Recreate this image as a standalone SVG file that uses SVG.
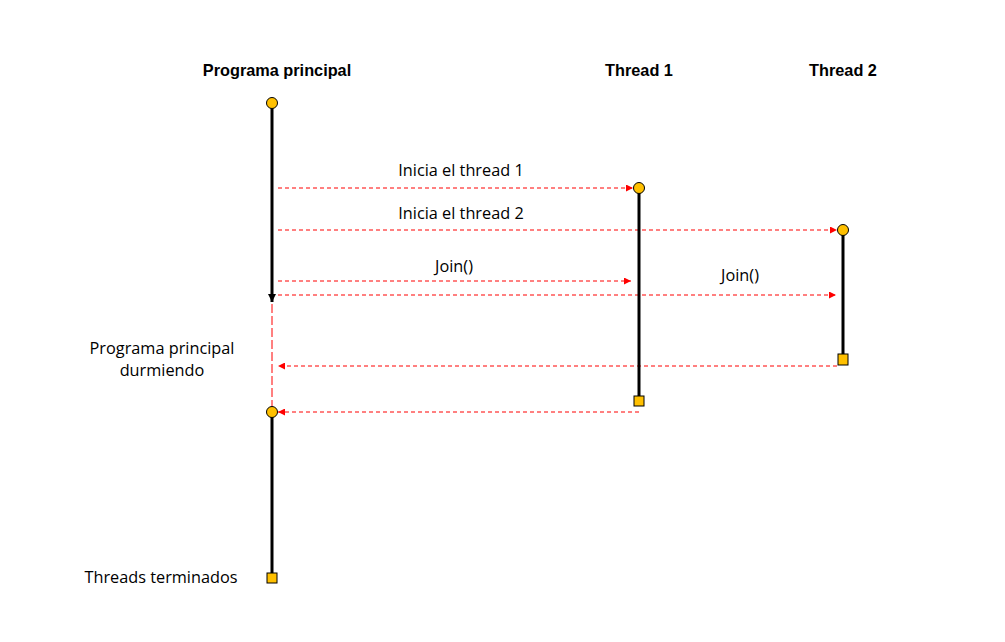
<svg xmlns="http://www.w3.org/2000/svg" width="1005" height="642" viewBox="0 0 1005 642">
<style>
.hdr{font-family:"Liberation Sans",Arial,sans-serif;font-weight:bold;font-size:16.3px;fill:#000;text-anchor:middle}
.lbl{font-family:"Open Sans","Liberation Sans",sans-serif;font-size:16.3px;fill:#000;text-anchor:middle}
.life{stroke:#000;stroke-width:3;fill:none}
.msg{stroke:#ff0000;stroke-width:1;stroke-dasharray:4,3;fill:none}
.vmsg{stroke:#ff0000;stroke-width:1;stroke-dasharray:9,3;fill:none}
.start{fill:#ffc000;stroke:#000;stroke-width:1}
.end{fill:#ffc000;stroke:#000;stroke-width:1}
</style>
<defs>
<marker id="ra" viewBox="0 0 10 10" refX="10" refY="5" markerWidth="8" markerHeight="7" markerUnits="userSpaceOnUse" orient="auto">
<path d="M0,0 L10,5 L0,10 z" fill="#ff0000"/>
</marker>
<marker id="ba" viewBox="0 0 10 10" refX="10" refY="5" markerWidth="9" markerHeight="8" markerUnits="userSpaceOnUse" orient="auto">
<path d="M0,0 L10,5 L0,10 z" fill="#000"/>
</marker>
</defs>
<rect width="1005" height="642" fill="#fff"/>
<g id="connectors">
<line class="msg" x1="278" y1="188" x2="633" y2="188" marker-end="url(#ra)"/>
<line class="msg" x1="278" y1="230" x2="837" y2="230" marker-end="url(#ra)"/>
<line class="msg" x1="278" y1="281" x2="631" y2="281" marker-end="url(#ra)"/>
<line class="msg" x1="278" y1="295" x2="836" y2="295" marker-end="url(#ra)"/>
<line class="msg" x1="837" y1="366" x2="278" y2="366" marker-end="url(#ra)"/>
<line class="msg" x1="639" y1="412" x2="278" y2="412" marker-end="url(#ra)"/>
<line class="vmsg" x1="272" y1="304" x2="272" y2="407"/>
</g>
<g id="main">
<line class="life" x1="272" y1="108" x2="272" y2="302" marker-end="url(#ba)"/>
<circle class="start" cx="272" cy="103" r="5.5"/>
<text class="hdr" x="277" y="76">Programa principal</text>
</g>
<g id="main-resume">
<line class="life" x1="272" y1="417" x2="272" y2="573"/>
<circle class="start" cx="272" cy="412" r="5.5"/>
<rect class="end" x="267" y="573" width="10" height="10"/>
</g>
<g id="thread1">
<line class="life" x1="639" y1="193" x2="639" y2="396"/>
<circle class="start" cx="639" cy="188" r="5.5"/>
<rect class="end" x="634" y="396" width="10" height="10"/>
<text class="hdr" x="639" y="76">Thread 1</text>
</g>
<g id="thread2">
<line class="life" x1="843" y1="235" x2="843" y2="355"/>
<circle class="start" cx="843" cy="230" r="5.5"/>
<rect class="end" x="838" y="354" width="10" height="11"/>
<text class="hdr" x="843" y="76">Thread 2</text>
</g>
<g id="labels">
<text class="lbl" x="461" y="176">Inicia el thread 1</text>
<text class="lbl" x="461" y="219">Inicia el thread 2</text>
<text class="lbl" x="454" y="272">Join()</text>
<text class="lbl" x="740" y="281">Join()</text>
<text class="lbl" x="162" y="354">Programa principal</text>
<text class="lbl" x="162" y="376">durmiendo</text>
<text class="lbl" x="161" y="583">Threads terminados</text>
</g>
</svg>
